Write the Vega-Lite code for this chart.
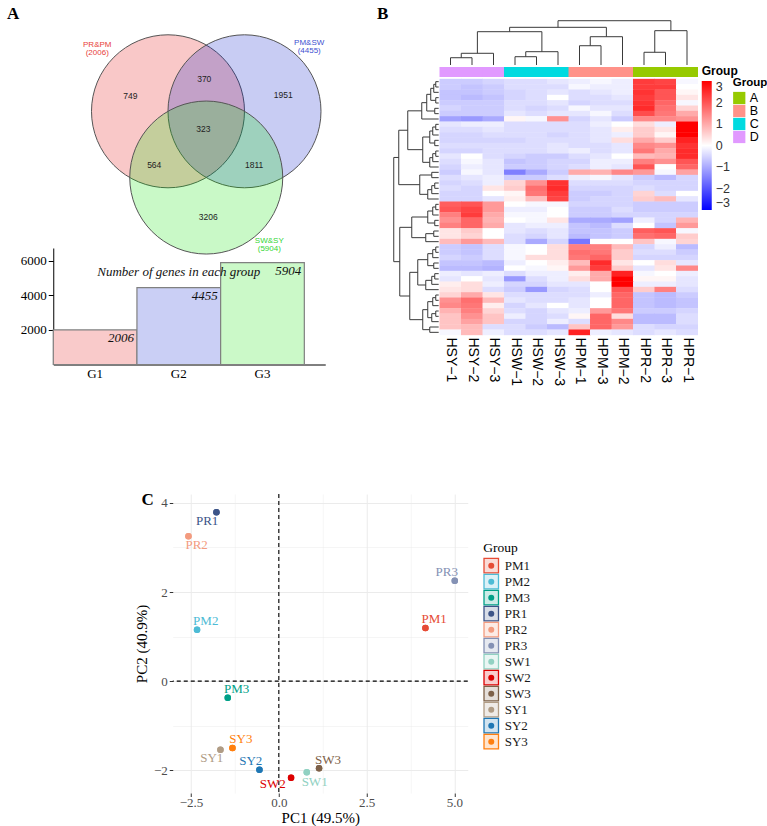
{
  "$schema": "https://vega.github.io/schema/vega-lite/v6.json",
  "background": "white",
  "padding": {"left": 6, "top": 3, "right": 0, "bottom": 0},
  "config": {"view": {"stroke": null}, "font": "Liberation Sans"},
  "datasets": {
    "vennSets": [
      {"set": "PR&PM", "x": -0.5, "y": 0.289, "lx": -1.425, "ly": 1.162, "label": "PR&PM\n(2006)"},
      {"set": "PM&SW", "x": 0.5, "y": 0.289, "lx": 1.346, "ly": 1.182, "label": "PM&SW\n(4455)"},
      {"set": "SW&SY", "x": 0.0, "y": -0.577, "lx": 0.824, "ly": -1.407, "label": "SW&SY\n(5904)"}
    ],
    "vennCounts": [
      {"n": 749, "x": -0.993, "y": 0.489},
      {"n": 370, "x": -0.026, "y": 0.711},
      {"n": 1951, "x": 1.007, "y": 0.502},
      {"n": 323, "x": -0.039, "y": 0.058},
      {"n": 564, "x": -0.68, "y": -0.413},
      {"n": 1811, "x": 0.627, "y": -0.413},
      {"n": 3206, "x": 0.026, "y": -1.093}
    ],
    "groupSizes": [
      {"g": "G1", "n": 2006},
      {"g": "G2", "n": 4455},
      {"g": "G3", "n": 5904}
    ],
    "samples": [
      {"sample": "HSY-1", "col": 0, "grp": "D"},
      {"sample": "HSY-2", "col": 1, "grp": "D"},
      {"sample": "HSY-3", "col": 2, "grp": "D"},
      {"sample": "HSW-1", "col": 3, "grp": "C"},
      {"sample": "HSW-2", "col": 4, "grp": "C"},
      {"sample": "HSW-3", "col": 5, "grp": "C"},
      {"sample": "HPM-1", "col": 6, "grp": "B"},
      {"sample": "HPM-3", "col": 7, "grp": "B"},
      {"sample": "HPM-2", "col": 8, "grp": "B"},
      {"sample": "HPR-2", "col": 9, "grp": "A"},
      {"sample": "HPR-3", "col": 10, "grp": "A"},
      {"sample": "HPR-1", "col": 11, "grp": "A"}
    ],
    "expression": [
      {"gene": 0, "HSY-1": -0.6, "HSY-2": -0.6, "HSY-3": -0.5, "HSW-1": -0.4, "HSW-2": -0.4, "HSW-3": -0.3, "HPM-1": -0.2, "HPM-3": -0.1, "HPM-2": -0.2, "HPR-2": 2.3, "HPR-3": 2.2, "HPR-1": -0.1},
      {"gene": 1, "HSY-1": -0.6, "HSY-2": -0.7, "HSY-3": -0.6, "HSW-1": -0.4, "HSW-2": -0.4, "HSW-3": -0.4, "HPM-1": -0.1, "HPM-3": -0.2, "HPM-2": -0.2, "HPR-2": 2.3, "HPR-3": 2.3, "HPR-1": 0.0},
      {"gene": 2, "HSY-1": -0.7, "HSY-2": -0.7, "HSY-3": -0.6, "HSW-1": -0.5, "HSW-2": -0.4, "HSW-3": -0.3, "HPM-1": -0.4, "HPM-3": -0.3, "HPM-2": -0.2, "HPR-2": 2.4, "HPR-3": 2.0, "HPR-1": 0.1},
      {"gene": 3, "HSY-1": -0.7, "HSY-2": -0.8, "HSY-3": -0.7, "HSW-1": -0.5, "HSW-2": -0.4, "HSW-3": 0.0, "HPM-1": -0.4, "HPM-3": -0.4, "HPM-2": -0.3, "HPR-2": 2.3, "HPR-3": 2.0, "HPR-1": 0.3},
      {"gene": 4, "HSY-1": -0.6, "HSY-2": -0.6, "HSY-3": -0.6, "HSW-1": -0.4, "HSW-2": -0.4, "HSW-3": -0.3, "HPM-1": -0.5, "HPM-3": -0.4, "HPM-2": -0.4, "HPR-2": 2.4, "HPR-3": 1.8, "HPR-1": -0.1},
      {"gene": 5, "HSY-1": -0.5, "HSY-2": -0.6, "HSY-3": -0.6, "HSW-1": -0.4, "HSW-2": -0.5, "HSW-3": -0.4, "HPM-1": -0.1, "HPM-3": -0.3, "HPM-2": -0.3, "HPR-2": 2.5, "HPR-3": 1.7, "HPR-1": 0.5},
      {"gene": 6, "HSY-1": -0.6, "HSY-2": -0.6, "HSY-3": -0.6, "HSW-1": -0.3, "HSW-2": -0.4, "HSW-3": -0.3, "HPM-1": -0.3, "HPM-3": -0.1, "HPM-2": -0.4, "HPR-2": 2.1, "HPR-3": 1.6, "HPR-1": 1.0},
      {"gene": 7, "HSY-1": -1.1, "HSY-2": -1.2, "HSY-3": -1.0, "HSW-1": 0.1, "HSW-2": -0.1, "HSW-3": 1.3, "HPM-1": -0.5, "HPM-3": -0.3, "HPM-2": -0.6, "HPR-2": 1.4, "HPR-3": 1.4, "HPR-1": 1.3},
      {"gene": 8, "HSY-1": -0.3, "HSY-2": -0.2, "HSY-3": -0.2, "HSW-1": -0.4, "HSW-2": -0.4, "HSW-3": -0.4, "HPM-1": -0.4, "HPM-3": -0.2, "HPM-2": 0.0, "HPR-2": 0.4, "HPR-3": -0.2, "HPR-1": 3.0},
      {"gene": 9, "HSY-1": -0.4, "HSY-2": -0.4, "HSY-3": -0.3, "HSW-1": -0.4, "HSW-2": -0.4, "HSW-3": -0.4, "HPM-1": -0.4, "HPM-3": -0.3, "HPM-2": 0.2, "HPR-2": 0.6, "HPR-3": 0.3, "HPR-1": 3.0},
      {"gene": 10, "HSY-1": -0.5, "HSY-2": -0.5, "HSY-3": -0.4, "HSW-1": -0.4, "HSW-2": -0.4, "HSW-3": -0.5, "HPM-1": -0.4, "HPM-3": -0.3, "HPM-2": -0.2, "HPR-2": 0.6, "HPR-3": 0.1, "HPR-1": 3.0},
      {"gene": 11, "HSY-1": -0.5, "HSY-2": -0.5, "HSY-3": -0.5, "HSW-1": -0.5, "HSW-2": -0.4, "HSW-3": -0.4, "HPM-1": -0.4, "HPM-3": -0.3, "HPM-2": 0.4, "HPR-2": 1.0, "HPR-3": 0.6, "HPR-1": 2.6},
      {"gene": 12, "HSY-1": -0.4, "HSY-2": -0.4, "HSY-3": -0.4, "HSW-1": -0.4, "HSW-2": -0.4, "HSW-3": -0.3, "HPM-1": -0.4, "HPM-3": -0.4, "HPM-2": -0.3, "HPR-2": 1.4, "HPR-3": 1.3, "HPR-1": 2.4},
      {"gene": 13, "HSY-1": -0.5, "HSY-2": -0.5, "HSY-3": -0.4, "HSW-1": -0.4, "HSW-2": -0.4, "HSW-3": -0.3, "HPM-1": -0.2, "HPM-3": -0.4, "HPM-2": -0.3, "HPR-2": 1.6, "HPR-3": 1.0, "HPR-1": 2.5},
      {"gene": 14, "HSY-1": -0.3, "HSY-2": 0.0, "HSY-3": -0.4, "HSW-1": -0.5, "HSW-2": -0.6, "HSW-3": -0.6, "HPM-1": -0.4, "HPM-3": -0.3, "HPM-2": 0.0, "HPR-2": 0.8, "HPR-3": 0.9, "HPR-1": 2.5},
      {"gene": 15, "HSY-1": -0.4, "HSY-2": -0.1, "HSY-3": -0.3, "HSW-1": -0.7, "HSW-2": -0.6, "HSW-3": -0.5, "HPM-1": -0.5, "HPM-3": -0.2, "HPM-2": -0.2, "HPR-2": 1.5, "HPR-3": 1.3, "HPR-1": 2.0},
      {"gene": 16, "HSY-1": -0.5, "HSY-2": -0.2, "HSY-3": -0.3, "HSW-1": -0.6, "HSW-2": -0.6, "HSW-3": -0.5, "HPM-1": -0.4, "HPM-3": -0.2, "HPM-2": -0.3, "HPR-2": 2.0, "HPR-3": 0.0, "HPR-1": 1.8},
      {"gene": 17, "HSY-1": -0.6, "HSY-2": -0.1, "HSY-3": -0.3, "HSW-1": -1.5, "HSW-2": -1.0, "HSW-3": -0.6, "HPM-1": 1.0, "HPM-3": 0.9, "HPM-2": 1.4, "HPR-2": 1.2, "HPR-3": -0.1, "HPR-1": 1.1},
      {"gene": 18, "HSY-1": -0.4, "HSY-2": -0.3, "HSY-3": -0.2, "HSW-1": -0.6, "HSW-2": -0.6, "HSW-3": -0.4, "HPM-1": -0.2, "HPM-3": -0.1, "HPM-2": -0.3, "HPR-2": -0.6, "HPR-3": -0.8, "HPR-1": -0.5},
      {"gene": 19, "HSY-1": -0.5, "HSY-2": -0.4, "HSY-3": -0.2, "HSW-1": 0.5, "HSW-2": 1.3, "HSW-3": 2.4, "HPM-1": -0.4, "HPM-3": -0.4, "HPM-2": -0.4, "HPR-2": -0.5, "HPR-3": -0.5, "HPR-1": -0.5},
      {"gene": 20, "HSY-1": -0.4, "HSY-2": -0.5, "HSY-3": 0.3, "HSW-1": 0.6, "HSW-2": 1.7, "HSW-3": 2.5, "HPM-1": -0.5, "HPM-3": -0.5, "HPM-2": -0.5, "HPR-2": -0.4, "HPR-3": -0.5, "HPR-1": -0.5},
      {"gene": 21, "HSY-1": -0.5, "HSY-2": -0.5, "HSY-3": 0.0, "HSW-1": 0.1, "HSW-2": 1.6, "HSW-3": 2.3, "HPM-1": -0.6, "HPM-3": -0.6, "HPM-2": -0.5, "HPR-2": 0.5, "HPR-3": -0.4, "HPR-1": 0.0},
      {"gene": 22, "HSY-1": -0.5, "HSY-2": -0.5, "HSY-3": -0.3, "HSW-1": 0.2, "HSW-2": 0.8, "HSW-3": 2.2, "HPM-1": -0.6, "HPM-3": -0.5, "HPM-2": -0.5, "HPR-2": 0.6, "HPR-3": 0.8, "HPR-1": -0.3},
      {"gene": 23, "HSY-1": 1.9, "HSY-2": 2.0, "HSY-3": 1.2, "HSW-1": 0.0, "HSW-2": -0.1, "HSW-3": -0.1, "HPM-1": -0.5, "HPM-3": -0.5, "HPM-2": -0.5, "HPR-2": -0.6, "HPR-3": -0.6, "HPR-1": -0.6},
      {"gene": 24, "HSY-1": 2.0, "HSY-2": 2.2, "HSY-3": 1.2, "HSW-1": -0.2, "HSW-2": -0.2, "HSW-3": 0.0, "HPM-1": -0.6, "HPM-3": -0.6, "HPM-2": -0.4, "HPR-2": -0.6, "HPR-3": -0.6, "HPR-1": -0.6},
      {"gene": 25, "HSY-1": 1.5, "HSY-2": 2.3, "HSY-3": 1.0, "HSW-1": -0.1, "HSW-2": -0.1, "HSW-3": 0.0, "HPM-1": -0.6, "HPM-3": -0.6, "HPM-2": -0.5, "HPR-2": -0.5, "HPR-3": -0.5, "HPR-1": -0.5},
      {"gene": 26, "HSY-1": 1.3, "HSY-2": 1.8, "HSY-3": 0.9, "HSW-1": 0.0, "HSW-2": -0.1, "HSW-3": 0.3, "HPM-1": -1.0, "HPM-3": -1.0, "HPM-2": -1.1, "HPR-2": -0.2, "HPR-3": -0.5, "HPR-1": 0.9},
      {"gene": 27, "HSY-1": 1.5, "HSY-2": 1.8, "HSY-3": 1.0, "HSW-1": -0.3, "HSW-2": -0.2, "HSW-3": -0.2, "HPM-1": -0.7, "HPM-3": -0.8, "HPM-2": -0.4, "HPR-2": 0.0, "HPR-3": -0.7, "HPR-1": 1.2},
      {"gene": 28, "HSY-1": 0.3, "HSY-2": 0.6, "HSY-3": 0.0, "HSW-1": -0.3, "HSW-2": -0.4, "HSW-3": -0.3, "HPM-1": -0.7, "HPM-3": -0.7, "HPM-2": -0.6, "HPR-2": 1.9, "HPR-3": 2.0, "HPR-1": -0.1},
      {"gene": 29, "HSY-1": 0.3, "HSY-2": 0.5, "HSY-3": 0.0, "HSW-1": -0.4, "HSW-2": -0.5, "HSW-3": -0.3, "HPM-1": -0.8, "HPM-3": -0.7, "HPM-2": -0.6, "HPR-2": 1.7, "HPR-3": 1.8, "HPR-1": 0.6},
      {"gene": 30, "HSY-1": 0.8, "HSY-2": 1.2, "HSY-3": 0.8, "HSW-1": -0.4, "HSW-2": -1.0, "HSW-3": -0.5, "HPM-1": -1.6, "HPM-3": 0.0, "HPM-2": 0.0, "HPR-2": 0.7, "HPR-3": -0.1, "HPR-1": 0.5},
      {"gene": 31, "HSY-1": -0.6, "HSY-2": -0.7, "HSY-3": -0.4, "HSW-1": -0.1, "HSW-2": 0.0, "HSW-3": 0.4, "HPM-1": 1.5, "HPM-3": 1.5, "HPM-2": 0.8, "HPR-2": -0.5, "HPR-3": -0.2, "HPR-1": -0.8},
      {"gene": 32, "HSY-1": -0.6, "HSY-2": -0.7, "HSY-3": -0.4, "HSW-1": -0.1, "HSW-2": 0.0, "HSW-3": 0.4, "HPM-1": 1.7, "HPM-3": 1.6, "HPM-2": 0.6, "HPR-2": -0.4, "HPR-3": -0.4, "HPR-1": -0.6},
      {"gene": 33, "HSY-1": -0.5, "HSY-2": -0.6, "HSY-3": -0.4, "HSW-1": -0.1, "HSW-2": 0.4, "HSW-3": 0.4, "HPM-1": 1.6, "HPM-3": 1.8, "HPM-2": 0.6, "HPR-2": -0.5, "HPR-3": -0.5, "HPR-1": -0.5},
      {"gene": 34, "HSY-1": -0.7, "HSY-2": -0.7, "HSY-3": -0.8, "HSW-1": -0.2, "HSW-2": 0.0, "HSW-3": 0.2, "HPM-1": 0.8, "HPM-3": 2.5, "HPM-2": 0.3, "HPR-2": 0.0, "HPR-3": 0.4, "HPR-1": -0.3},
      {"gene": 35, "HSY-1": -0.8, "HSY-2": -0.8, "HSY-3": -0.9, "HSW-1": 0.0, "HSW-2": -0.1, "HSW-3": 0.1, "HPM-1": 1.2, "HPM-3": 2.3, "HPM-2": 0.6, "HPR-2": -0.3, "HPR-3": 0.3, "HPR-1": 1.4},
      {"gene": 36, "HSY-1": -0.2, "HSY-2": -0.3, "HSY-3": -0.2, "HSW-1": -0.4, "HSW-2": -0.2, "HSW-3": -0.2, "HPM-1": 0.2, "HPM-3": 1.0, "HPM-2": 2.6, "HPR-2": -0.1, "HPR-3": 0.0, "HPR-1": -0.2},
      {"gene": 37, "HSY-1": -0.3, "HSY-2": 0.0, "HSY-3": -0.3, "HSW-1": -1.2, "HSW-2": -0.4, "HSW-3": -0.2, "HPM-1": 0.4, "HPM-3": 1.0, "HPM-2": 3.0, "HPR-2": 0.1, "HPR-3": 0.1, "HPR-1": -0.3},
      {"gene": 38, "HSY-1": 0.2, "HSY-2": 0.4, "HSY-3": -0.2, "HSW-1": -0.5, "HSW-2": -0.5, "HSW-3": -0.3, "HPM-1": -0.3, "HPM-3": 0.0, "HPM-2": 3.0, "HPR-2": -0.2, "HPR-3": -0.2, "HPR-1": -0.3},
      {"gene": 39, "HSY-1": 0.3, "HSY-2": 0.4, "HSY-3": -0.4, "HSW-1": -0.6, "HSW-2": -1.2, "HSW-3": -0.5, "HPM-1": -0.4, "HPM-3": 0.0, "HPM-2": 2.0, "HPR-2": 0.6, "HPR-3": 1.5, "HPR-1": -0.4},
      {"gene": 40, "HSY-1": 0.5, "HSY-2": 1.0, "HSY-3": 0.3, "HSW-1": -0.4, "HSW-2": -0.4, "HSW-3": -0.4, "HPM-1": -0.4, "HPM-3": -0.2, "HPM-2": 1.8, "HPR-2": -0.7, "HPR-3": -0.8, "HPR-1": -0.6},
      {"gene": 41, "HSY-1": 1.3, "HSY-2": 1.7, "HSY-3": 0.8, "HSW-1": -0.3, "HSW-2": -0.4, "HSW-3": -0.4, "HPM-1": -0.3, "HPM-3": 0.0, "HPM-2": 1.8, "HPR-2": -0.7, "HPR-3": -0.8, "HPR-1": -0.7},
      {"gene": 42, "HSY-1": 1.4, "HSY-2": 1.6, "HSY-3": 0.2, "HSW-1": -0.5, "HSW-2": -0.3, "HSW-3": 0.0, "HPM-1": -0.3, "HPM-3": 0.0, "HPM-2": 1.8, "HPR-2": -0.7, "HPR-3": -0.8, "HPR-1": -0.7},
      {"gene": 43, "HSY-1": 0.9, "HSY-2": 1.5, "HSY-3": 0.5, "HSW-1": -0.4, "HSW-2": -0.5, "HSW-3": -0.3, "HPM-1": -0.2, "HPM-3": 1.2, "HPM-2": 1.6, "HPR-2": -0.6, "HPR-3": -0.6, "HPR-1": -0.5},
      {"gene": 44, "HSY-1": 0.7, "HSY-2": 1.3, "HSY-3": 0.7, "HSW-1": -0.2, "HSW-2": -0.5, "HSW-3": -0.4, "HPM-1": 0.1, "HPM-3": 1.8, "HPM-2": 0.4, "HPR-2": -0.8, "HPR-3": -0.8, "HPR-1": -0.4},
      {"gene": 45, "HSY-1": 0.7, "HSY-2": 1.1, "HSY-3": 0.7, "HSW-1": -0.5, "HSW-2": -0.5, "HSW-3": -0.2, "HPM-1": -0.4, "HPM-3": 1.8, "HPM-2": 1.4, "HPR-2": -0.8, "HPR-3": -0.8, "HPR-1": -0.4},
      {"gene": 46, "HSY-1": 0.7, "HSY-2": 0.8, "HSY-3": -0.4, "HSW-1": -0.4, "HSW-2": -0.6, "HSW-3": -0.8, "HPM-1": 0.7, "HPM-3": 1.8, "HPM-2": 1.2, "HPR-2": -0.4, "HPR-3": -0.5, "HPR-1": -0.5},
      {"gene": 47, "HSY-1": -0.1, "HSY-2": 0.8, "HSY-3": -0.2, "HSW-1": -0.4, "HSW-2": -0.4, "HSW-3": -0.3, "HPM-1": 2.6, "HPM-3": -0.2, "HPM-2": -0.3, "HPR-2": -0.4, "HPR-3": -0.3, "HPR-1": -0.4}
    ],
    "rowTree": [
      {"pA": 0, "hA": -0.55, "pB": 1, "hB": -0.55, "h": -0.686},
      {"pA": 0.5, "hA": -0.686, "pB": 2, "hB": -0.55, "h": -0.779},
      {"pA": 3, "hA": -0.55, "pB": 4, "hB": -0.55, "h": -0.686},
      {"pA": 1.25, "hA": -0.779, "pB": 3.5, "hB": -0.686, "h": -0.919},
      {"pA": 5, "hA": -0.55, "pB": 6, "hB": -0.55, "h": -0.733},
      {"pA": 2.375, "hA": -0.919, "pB": 5.5, "hB": -0.733, "h": -1.105},
      {"pA": 3.9375, "hA": -1.105, "pB": 7, "hB": -0.55, "h": -1.337},
      {"pA": 8, "hA": -0.55, "pB": 9, "hB": -0.55, "h": -0.686},
      {"pA": 8.5, "hA": -0.686, "pB": 10, "hB": -0.55, "h": -0.826},
      {"pA": 11, "hA": -0.55, "pB": 12, "hB": -0.55, "h": -0.733},
      {"pA": 9.25, "hA": -0.826, "pB": 11.5, "hB": -0.733, "h": -0.965},
      {"pA": 13, "hA": -0.55, "pB": 14, "hB": -0.55, "h": -0.686},
      {"pA": 13.5, "hA": -0.686, "pB": 15, "hB": -0.55, "h": -0.826},
      {"pA": 14.25, "hA": -0.826, "pB": 16, "hB": -0.55, "h": -0.965},
      {"pA": 10.375, "hA": -0.965, "pB": 15.125, "hB": -0.965, "h": -1.291},
      {"pA": 5.46875, "hA": -1.337, "pB": 12.75, "hB": -1.291, "h": -1.988},
      {"pA": 17, "hA": -0.55, "pB": 18, "hB": -0.55, "h": -0.872},
      {"pA": 19, "hA": -0.55, "pB": 20, "hB": -0.55, "h": -0.733},
      {"pA": 19.5, "hA": -0.733, "pB": 21, "hB": -0.55, "h": -0.872},
      {"pA": 20.25, "hA": -0.872, "pB": 22, "hB": -0.55, "h": -1.058},
      {"pA": 17.5, "hA": -0.872, "pB": 21.125, "hB": -1.058, "h": -1.43},
      {"pA": 9.109, "hA": -1.988, "pB": 19.3125, "hB": -1.43, "h": -2.407},
      {"pA": 23, "hA": -0.55, "pB": 24, "hB": -0.55, "h": -0.686},
      {"pA": 23.5, "hA": -0.686, "pB": 25, "hB": -0.55, "h": -0.826},
      {"pA": 26, "hA": -0.55, "pB": 27, "hB": -0.55, "h": -0.733},
      {"pA": 24.25, "hA": -0.826, "pB": 26.5, "hB": -0.733, "h": -1.058},
      {"pA": 28, "hA": -0.55, "pB": 29, "hB": -0.55, "h": -0.779},
      {"pA": 28.5, "hA": -0.779, "pB": 30, "hB": -0.55, "h": -1.151},
      {"pA": 25.375, "hA": -1.058, "pB": 29.25, "hB": -1.151, "h": -1.802},
      {"pA": 31, "hA": -0.55, "pB": 32, "hB": -0.55, "h": -0.686},
      {"pA": 31.5, "hA": -0.686, "pB": 33, "hB": -0.55, "h": -0.826},
      {"pA": 34, "hA": -0.55, "pB": 35, "hB": -0.55, "h": -0.779},
      {"pA": 32.25, "hA": -0.826, "pB": 34.5, "hB": -0.779, "h": -1.058},
      {"pA": 36, "hA": -0.55, "pB": 37, "hB": -0.55, "h": -0.733},
      {"pA": 36.5, "hA": -0.733, "pB": 38, "hB": -0.55, "h": -0.872},
      {"pA": 37.25, "hA": -0.872, "pB": 39, "hB": -0.55, "h": -1.151},
      {"pA": 33.375, "hA": -1.058, "pB": 38.125, "hB": -1.151, "h": -1.523},
      {"pA": 40, "hA": -0.55, "pB": 41, "hB": -0.55, "h": -0.686},
      {"pA": 40.5, "hA": -0.686, "pB": 42, "hB": -0.55, "h": -0.826},
      {"pA": 43, "hA": -0.55, "pB": 44, "hB": -0.55, "h": -0.686},
      {"pA": 43.5, "hA": -0.686, "pB": 45, "hB": -0.55, "h": -0.872},
      {"pA": 41.25, "hA": -0.826, "pB": 44.25, "hB": -0.872, "h": -1.058},
      {"pA": 46, "hA": -0.55, "pB": 47, "hB": -0.55, "h": -0.965},
      {"pA": 42.75, "hA": -1.058, "pB": 46.5, "hB": -0.965, "h": -1.291},
      {"pA": 35.75, "hA": -1.523, "pB": 44.625, "hB": -1.291, "h": -1.895},
      {"pA": 27.3125, "hA": -1.802, "pB": 40.1875, "hB": -1.895, "h": -2.36},
      {"pA": 14.211, "hA": -2.407, "pB": 33.75, "hB": -2.36, "h": -2.64}
    ],
    "colTree": [
      {"pA": 0, "hA": -3.125, "pB": 1, "hB": -3.125, "h": -4.49},
      {"pA": 0.5, "hA": -4.49, "pB": 2, "hB": -3.125, "h": -5.32},
      {"pA": 3, "hA": -3.125, "pB": 4, "hB": -3.125, "h": -4.68},
      {"pA": 3.5, "hA": -4.68, "pB": 5, "hB": -3.125, "h": -5.62},
      {"pA": 1.25, "hA": -5.32, "pB": 4.25, "hB": -5.62, "h": -9.37},
      {"pA": 6, "hA": -3.125, "pB": 7, "hB": -3.125, "h": -6.74},
      {"pA": 6.5, "hA": -6.74, "pB": 8, "hB": -3.125, "h": -8.43},
      {"pA": 2.75, "hA": -9.37, "pB": 7.25, "hB": -8.43, "h": -10.19},
      {"pA": 9, "hA": -3.125, "pB": 10, "hB": -3.125, "h": -5.51},
      {"pA": 9.5, "hA": -5.51, "pB": 11, "hB": -3.125, "h": -9.56},
      {"pA": 5, "hA": -10.19, "pB": 10.25, "hB": -9.56, "h": -11.43}
    ],
    "pca": [
      {"s": "PM1", "pc1": 4.175, "pc2": 1.194, "lx": 4.42, "ly": 1.39},
      {"s": "PM2", "pc1": -2.328, "pc2": 1.156, "lx": -2.08, "ly": 1.35},
      {"s": "PM3", "pc1": -1.454, "pc2": -0.37, "lx": -1.2, "ly": -0.18},
      {"s": "PR1", "pc1": -1.776, "pc2": 3.79, "lx": -2.04, "ly": 3.6},
      {"s": "PR2", "pc1": -2.573, "pc2": 3.252, "lx": -2.34, "ly": 3.06},
      {"s": "PR3", "pc1": 5.01, "pc2": 2.255, "lx": 4.78, "ly": 2.45},
      {"s": "SW1", "pc1": 0.796, "pc2": -2.044, "lx": 1.02, "ly": -2.26},
      {"s": "SW2", "pc1": 0.349, "pc2": -2.166, "lx": -0.17, "ly": -2.31},
      {"s": "SW3", "pc1": 1.146, "pc2": -1.955, "lx": 1.4, "ly": -1.78},
      {"s": "SY1", "pc1": -1.662, "pc2": -1.537, "lx": -1.91, "ly": -1.73},
      {"s": "SY2", "pc1": -0.551, "pc2": -1.986, "lx": -0.8, "ly": -1.8},
      {"s": "SY3", "pc1": -1.32, "pc2": -1.499, "lx": -1.08, "ly": -1.3}
    ]
  },
  "vconcat": [
    {
      "hconcat": [
        {
          "vconcat": [
            {
              "width": 272,
              "height": 237,
              "layer": [
                {
                  "data": {"name": "vennSets"},
                  "mark": {"type": "point", "shape": "circle", "filled": true, "size": 23409, "opacity": 1, "fillOpacity": 0.22, "stroke": "#555555", "strokeWidth": 1, "strokeOpacity": 1},
                  "encoding": {
                    "x": {"field": "x", "type": "quantitative", "scale": {"domain": [-2.0, 1.5556], "nice": false, "zero": false}, "axis": null},
                    "y": {"field": "y", "type": "quantitative", "scale": {"domain": [-1.3935, 1.7046], "nice": false, "zero": false}, "axis": null},
                    "fill": {"field": "set", "type": "nominal", "scale": {"domain": ["PR&PM", "PM&SW", "SW&SY"], "range": ["#E40505", "#0517C8", "#0AE400"]}, "legend": null}
                  }
                },
                {
                  "data": {"name": "vennCounts"},
                  "mark": {"type": "text", "font": "Liberation Sans", "fontSize": 8.5, "fill": "#222222"},
                  "encoding": {
                    "x": {"field": "x", "type": "quantitative", "axis": null},
                    "y": {"field": "y", "type": "quantitative", "axis": null},
                    "text": {"field": "n", "type": "nominal"}
                  }
                },
                {
                  "data": {"name": "vennSets"},
                  "mark": {"type": "text", "font": "Liberation Sans", "fontSize": 8, "lineBreak": "\n", "lineHeight": 8},
                  "encoding": {
                    "x": {"field": "lx", "type": "quantitative", "axis": null},
                    "y": {"field": "ly", "type": "quantitative", "axis": null},
                    "text": {"field": "label", "type": "nominal"},
                    "color": {"field": "set", "type": "nominal", "scale": {"domain": ["PR&PM", "PM&SW", "SW&SY"], "range": ["#E8403A", "#4050D0", "#33D633"]}, "legend": null}
                  }
                },
                {
                  "data": {"values": [{"panel": "A"}]},
                  "mark": {"type": "text", "font": "Liberation Serif", "fontSize": 17, "fontWeight": "bold", "baseline": "alphabetic", "align": "center", "fill": "#000000"},
                  "encoding": {
                    "x": {"datum": -2.525, "type": "quantitative", "axis": null},
                    "y": {"datum": 1.495, "type": "quantitative", "axis": null},
                    "text": {"field": "panel", "type": "nominal"}
                  }
                }
              ]
            },
            {
              "width": 272,
              "height": 116.5,
              "data": {"name": "groupSizes"},
              "layer": [
                {
                  "mark": {"type": "bar", "stroke": "#808080", "strokeWidth": 1.2, "opacity": 1},
                  "encoding": {
                    "x": {"field": "g", "type": "nominal", "scale": {"paddingInner": 0, "paddingOuter": 0.125, "align": 0},
                      "axis": {"title": null, "ticks": false, "labelAngle": 0, "labelFont": "Liberation Serif", "labelFontSize": 13, "labelColor": "#000000", "domainColor": "#000000", "domainWidth": 1, "labelPadding": 3}},
                    "y": {"field": "n", "type": "quantitative", "scale": {"domain": [0, 6750], "nice": false},
                      "axis": {"title": null, "values": [2000, 4000, 6000], "format": "d", "grid": false, "labelFont": "Liberation Serif", "labelFontSize": 13, "labelColor": "#000000", "tickColor": "#000000", "tickSize": 5, "domainColor": "#000000", "labelPadding": 2}},
                    "fill": {"field": "g", "type": "nominal", "scale": {"domain": ["G1", "G2", "G3"], "range": ["#F9CACA", "#CACFF5", "#CBF9C8"]}, "legend": null}
                  }
                },
                {
                  "mark": {"type": "text", "align": "right", "baseline": "top", "dx": -3, "dy": 2, "font": "Liberation Serif", "fontSize": 13, "fontStyle": "italic", "fill": "#111111"},
                  "encoding": {
                    "x": {"field": "g", "type": "nominal", "bandPosition": 1},
                    "y": {"field": "n", "type": "quantitative"},
                    "text": {"field": "n", "type": "nominal"}
                  }
                },
                {
                  "transform": [{"filter": "datum.g === 'G2'"}],
                  "mark": {"type": "text", "font": "Liberation Serif", "fontSize": 13, "fontStyle": "italic", "baseline": "middle", "fill": "#111111", "text": "Number of genes in each group"},
                  "encoding": {
                    "x": {"field": "g", "type": "nominal"},
                    "y": {"datum": 5359, "type": "quantitative"}
                  }
                }
              ]
            }
          ],
          "bounds": "flush",
          "spacing": 8,
          "resolve": {"scale": {"color": "independent", "fill": "independent", "stroke": "independent"}}
        },
        {
          "width": 328,
          "height": 332,
          "layer": [
            {
              "data": {"name": "expression"},
              "transform": [
                {"fold": ["HSY-1", "HSY-2", "HSY-3", "HSW-1", "HSW-2", "HSW-3", "HPM-1", "HPM-3", "HPM-2", "HPR-2", "HPR-3", "HPR-1"], "as": ["sample", "z"]},
                {"lookup": "sample", "from": {"data": {"name": "samples"}, "key": "sample", "fields": ["col"]}}
              ],
              "mark": {"type": "point", "shape": "M-1,-0.2591H1V0.2591H-1Z", "size": 484, "filled": true, "opacity": 1, "strokeWidth": 0},
              "encoding": {
                "x": {"field": "col", "type": "quantitative", "scale": {"domain": [-3.756, 11.5], "nice": false, "zero": false},
                  "axis": {"values": [0, 1, 2, 3, 4, 5, 6, 7, 8, 9, 10, 11], "labelExpr": "['HSY−1','HSY−2','HSY−3','HSW−1','HSW−2','HSW−3','HPM−1','HPM−3','HPM−2','HPR−2','HPR−3','HPR−1'][datum.value]", "labelAngle": 90, "labelAlign": "left", "labelBaseline": "middle", "labelFont": "Liberation Sans", "labelFontSize": 14, "labelColor": "#000000", "ticks": false, "domain": false, "grid": false, "title": null, "labelPadding": 2, "labelFlush": false, "labelOverlap": false}},
                "y": {"field": "gene", "type": "quantitative", "scale": {"domain": [-14.75, 47.5], "reverse": true, "nice": false, "zero": false}, "axis": null},
                "color": {"field": "z", "type": "quantitative", "scale": {"domain": [-3, 0, 3], "range": ["#0000FF", "#FFFFFF", "#FF0000"], "interpolate": "rgb"},
                  "legend": {"title": "Group", "orient": "none", "legendX": 332, "legendY": 63, "direction": "vertical", "gradientLength": 129, "gradientThickness": 10, "gradientStrokeWidth": 0, "values": [-3, -2, -1, 0, 1, 2, 3], "titleFont": "Liberation Sans", "titleFontSize": 12, "titleFontWeight": "bold", "titleColor": "#000000", "titlePadding": 3, "labelFont": "Liberation Sans", "labelFontSize": 12.5, "labelColor": "#333333", "labelOffset": 4}}
              }
            },
            {
              "data": {"name": "samples"},
              "mark": {"type": "point", "shape": "M-1,-0.4545H1V0.4545H-1Z", "size": 484, "filled": true, "opacity": 1, "strokeWidth": 0},
              "encoding": {
                "x": {"field": "col", "type": "quantitative",
                  "axis": {"values": [0, 1, 2, 3, 4, 5, 6, 7, 8, 9, 10, 11], "labelExpr": "['HSY−1','HSY−2','HSY−3','HSW−1','HSW−2','HSW−3','HPM−1','HPM−3','HPM−2','HPR−2','HPR−3','HPR−1'][datum.value]", "labelAngle": 90, "labelAlign": "left", "labelBaseline": "middle", "labelFont": "Liberation Sans", "labelFontSize": 14, "labelColor": "#000000", "ticks": false, "domain": false, "grid": false, "title": null, "labelPadding": 2, "labelFlush": false, "labelOverlap": false}},
                "y": {"datum": -1.8125, "type": "quantitative", "axis": null},
                "color": {"field": "grp", "type": "nominal", "scale": {"domain": ["A", "B", "C", "D"], "range": ["#96CA00", "#FF9289", "#00DAE0", "#E199FF"]},
                  "legend": {"title": "Group", "orient": "none", "legendX": 363, "legendY": 74, "symbolType": "square", "symbolSize": 150, "symbolStrokeWidth": 0, "rowPadding": 0, "titleFont": "Liberation Sans", "titleFontSize": 11.5, "titleFontWeight": "bold", "titleColor": "#000000", "titlePadding": 3, "labelFont": "Liberation Sans", "labelFontSize": 12.5, "labelColor": "#000000", "labelOffset": 4}}
              }
            },
            {
              "data": {"name": "rowTree"},
              "mark": {"type": "rule", "color": "#3a3a3a", "strokeWidth": 1},
              "encoding": {
                "x": {"field": "hA", "type": "quantitative",
                  "axis": {"values": [0, 1, 2, 3, 4, 5, 6, 7, 8, 9, 10, 11], "labelExpr": "['HSY−1','HSY−2','HSY−3','HSW−1','HSW−2','HSW−3','HPM−1','HPM−3','HPM−2','HPR−2','HPR−3','HPR−1'][datum.value]", "labelAngle": 90, "labelAlign": "left", "labelBaseline": "middle", "labelFont": "Liberation Sans", "labelFontSize": 14, "labelColor": "#000000", "ticks": false, "domain": false, "grid": false, "title": null, "labelPadding": 2, "labelFlush": false, "labelOverlap": false}},
                "x2": {"field": "h"},
                "y": {"field": "pA", "type": "quantitative", "axis": null}
              }
            },
            {
              "data": {"name": "rowTree"},
              "mark": {"type": "rule", "color": "#3a3a3a", "strokeWidth": 1},
              "encoding": {
                "x": {"field": "hB", "type": "quantitative",
                  "axis": {"values": [0, 1, 2, 3, 4, 5, 6, 7, 8, 9, 10, 11], "labelExpr": "['HSY−1','HSY−2','HSY−3','HSW−1','HSW−2','HSW−3','HPM−1','HPM−3','HPM−2','HPR−2','HPR−3','HPR−1'][datum.value]", "labelAngle": 90, "labelAlign": "left", "labelBaseline": "middle", "labelFont": "Liberation Sans", "labelFontSize": 14, "labelColor": "#000000", "ticks": false, "domain": false, "grid": false, "title": null, "labelPadding": 2, "labelFlush": false, "labelOverlap": false}},
                "x2": {"field": "h"},
                "y": {"field": "pB", "type": "quantitative", "axis": null}
              }
            },
            {
              "data": {"name": "rowTree"},
              "mark": {"type": "rule", "color": "#3a3a3a", "strokeWidth": 1},
              "encoding": {
                "x": {"field": "h", "type": "quantitative",
                  "axis": {"values": [0, 1, 2, 3, 4, 5, 6, 7, 8, 9, 10, 11], "labelExpr": "['HSY−1','HSY−2','HSY−3','HSW−1','HSW−2','HSW−3','HPM−1','HPM−3','HPM−2','HPR−2','HPR−3','HPR−1'][datum.value]", "labelAngle": 90, "labelAlign": "left", "labelBaseline": "middle", "labelFont": "Liberation Sans", "labelFontSize": 14, "labelColor": "#000000", "ticks": false, "domain": false, "grid": false, "title": null, "labelPadding": 2, "labelFlush": false, "labelOverlap": false}},
                "y": {"field": "pA", "type": "quantitative", "axis": null},
                "y2": {"field": "pB"}
              }
            },
            {
              "data": {"name": "colTree"},
              "mark": {"type": "rule", "color": "#3a3a3a", "strokeWidth": 1},
              "encoding": {
                "y": {"field": "hA", "type": "quantitative", "axis": null},
                "y2": {"field": "h"},
                "x": {"field": "pA", "type": "quantitative",
                  "axis": {"values": [0, 1, 2, 3, 4, 5, 6, 7, 8, 9, 10, 11], "labelExpr": "['HSY−1','HSY−2','HSY−3','HSW−1','HSW−2','HSW−3','HPM−1','HPM−3','HPM−2','HPR−2','HPR−3','HPR−1'][datum.value]", "labelAngle": 90, "labelAlign": "left", "labelBaseline": "middle", "labelFont": "Liberation Sans", "labelFontSize": 14, "labelColor": "#000000", "ticks": false, "domain": false, "grid": false, "title": null, "labelPadding": 2, "labelFlush": false, "labelOverlap": false}}
              }
            },
            {
              "data": {"name": "colTree"},
              "mark": {"type": "rule", "color": "#3a3a3a", "strokeWidth": 1},
              "encoding": {
                "y": {"field": "hB", "type": "quantitative", "axis": null},
                "y2": {"field": "h"},
                "x": {"field": "pB", "type": "quantitative",
                  "axis": {"values": [0, 1, 2, 3, 4, 5, 6, 7, 8, 9, 10, 11], "labelExpr": "['HSY−1','HSY−2','HSY−3','HSW−1','HSW−2','HSW−3','HPM−1','HPM−3','HPM−2','HPR−2','HPR−3','HPR−1'][datum.value]", "labelAngle": 90, "labelAlign": "left", "labelBaseline": "middle", "labelFont": "Liberation Sans", "labelFontSize": 14, "labelColor": "#000000", "ticks": false, "domain": false, "grid": false, "title": null, "labelPadding": 2, "labelFlush": false, "labelOverlap": false}}
              }
            },
            {
              "data": {"name": "colTree"},
              "mark": {"type": "rule", "color": "#3a3a3a", "strokeWidth": 1},
              "encoding": {
                "y": {"field": "h", "type": "quantitative", "axis": null},
                "x": {"field": "pA", "type": "quantitative",
                  "axis": {"values": [0, 1, 2, 3, 4, 5, 6, 7, 8, 9, 10, 11], "labelExpr": "['HSY−1','HSY−2','HSY−3','HSW−1','HSW−2','HSW−3','HPM−1','HPM−3','HPM−2','HPR−2','HPR−3','HPR−1'][datum.value]", "labelAngle": 90, "labelAlign": "left", "labelBaseline": "middle", "labelFont": "Liberation Sans", "labelFontSize": 14, "labelColor": "#000000", "ticks": false, "domain": false, "grid": false, "title": null, "labelPadding": 2, "labelFlush": false, "labelOverlap": false}},
                "x2": {"field": "pB"}
              }
            },
            {
              "data": {"values": [{"panel": "B"}]},
              "mark": {"type": "text", "font": "Liberation Serif", "fontSize": 17, "fontWeight": "bold", "baseline": "alphabetic", "align": "center", "fill": "#000000"},
              "encoding": {
                "x": {"datum": -3.151, "type": "quantitative",
                  "axis": {"values": [0, 1, 2, 3, 4, 5, 6, 7, 8, 9, 10, 11], "labelExpr": "['HSY−1','HSY−2','HSY−3','HSW−1','HSW−2','HSW−3','HPM−1','HPM−3','HPM−2','HPR−2','HPR−3','HPR−1'][datum.value]", "labelAngle": 90, "labelAlign": "left", "labelBaseline": "middle", "labelFont": "Liberation Sans", "labelFontSize": 14, "labelColor": "#000000", "ticks": false, "domain": false, "grid": false, "title": null, "labelPadding": 2, "labelFlush": false, "labelOverlap": false}},
                "y": {"datum": -11.75, "type": "quantitative", "axis": null},
                "text": {"field": "panel", "type": "nominal"}
              }
            }
          ],
          "resolve": {"scale": {"color": "independent"}, "legend": {"color": "independent"}}
        }
      ],
      "spacing": 44.5,
      "resolve": {"scale": {"color": "independent", "fill": "independent", "stroke": "independent"}}
    },
    {
      "hconcat": [
        {
          "width": 295,
          "height": 299,
          "layer": [
            {
              "data": {"name": "pca"},
              "mark": {"type": "point", "filled": true, "size": 42, "opacity": 1},
              "encoding": {
                "x": {"field": "pc1", "type": "quantitative", "scale": {"domain": [-3.02, 5.38], "nice": false, "zero": false},
                  "axis": {"values": [-2.5, -1.25, 0, 1.25, 2.5, 3.75, 5], "labelExpr": "datum.value % 2.5 === 0 ? format(datum.value, '.1f') : ''", "title": "PC1 (49.5%)", "grid": true, "gridColor": "#EBEBEB", "gridWidth": {"condition": {"test": "datum.value % 2.5 === 0", "value": 1}, "value": 0.5}, "tickOpacity": {"condition": {"test": "datum.value % 2.5 === 0", "value": 1}, "value": 0}, "tickColor": "#333333", "tickSize": 3.5, "domain": false, "labelFont": "Liberation Serif", "labelFontSize": 13, "labelColor": "#4D4D4D", "labelPadding": 0, "labelFlush": false, "labelOverlap": false, "titleFont": "Liberation Serif", "titleFontSize": 15, "titleFontWeight": "normal", "titleColor": "#000000", "titlePadding": 1}},
                "y": {"field": "pc2", "type": "quantitative", "scale": {"domain": [-2.51, 4.2], "nice": false, "zero": false},
                  "axis": {"values": [-2, -1, 0, 1, 2, 3, 4], "labelExpr": "datum.value % 2 === 0 ? format(datum.value, 'd') : ''", "title": "PC2 (40.9%)", "grid": true, "gridColor": "#EBEBEB", "gridWidth": {"condition": {"test": "datum.value % 2 === 0", "value": 1}, "value": 0.5}, "tickOpacity": {"condition": {"test": "datum.value % 2 === 0", "value": 1}, "value": 0}, "tickColor": "#333333", "tickSize": 3.5, "domain": false, "labelFont": "Liberation Serif", "labelFontSize": 13, "labelColor": "#4D4D4D", "labelPadding": 2, "labelFlush": false, "labelOverlap": false, "titleFont": "Liberation Serif", "titleFontSize": 15, "titleFontWeight": "normal", "titleColor": "#000000", "titlePadding": 4}},
                "color": {"field": "s", "type": "nominal", "scale": {"domain": ["PM1", "PM2", "PM3", "PR1", "PR2", "PR3", "SW1", "SW2", "SW3", "SY1", "SY2", "SY3"], "range": ["#E64B35", "#4DBBD5", "#00A087", "#3C5488", "#F39B7F", "#8491B4", "#91D1C2", "#DC0000", "#7E6148", "#B09C85", "#1F77B4", "#FF7F0E"]}, "legend": null}
              }
            },
            {
              "data": {"values": [{"ref": 0}]},
              "mark": {"type": "rule", "strokeDash": [4, 3], "color": "#000000", "strokeWidth": 1.1},
              "encoding": {"x": {"field": "ref", "type": "quantitative"}}
            },
            {
              "data": {"values": [{"ref": 0}]},
              "mark": {"type": "rule", "strokeDash": [4, 3], "color": "#000000", "strokeWidth": 1.1},
              "encoding": {"y": {"field": "ref", "type": "quantitative"}}
            },
            {
              "data": {"name": "pca"},
              "mark": {"type": "point", "filled": true, "size": 42, "opacity": 1},
              "encoding": {
                "x": {"field": "pc1", "type": "quantitative"},
                "y": {"field": "pc2", "type": "quantitative"},
                "color": {"field": "s", "type": "nominal", "legend": null}
              }
            },
            {
              "data": {"name": "pca"},
              "mark": {"type": "text", "font": "Liberation Serif", "fontSize": 13, "baseline": "middle", "align": "center"},
              "encoding": {
                "x": {"field": "lx", "type": "quantitative"},
                "y": {"field": "ly", "type": "quantitative"},
                "text": {"field": "s", "type": "nominal"},
                "color": {"field": "s", "type": "nominal", "legend": null}
              }
            },
            {
              "data": {"values": [{"panel": "C"}]},
              "mark": {"type": "text", "font": "Liberation Serif", "fontSize": 17, "fontWeight": "bold", "baseline": "alphabetic", "align": "center", "fill": "#000000"},
              "encoding": {
                "x": {"datum": -3.732, "type": "quantitative"},
                "y": {"datum": 3.954, "type": "quantitative"},
                "text": {"field": "panel", "type": "nominal"}
              }
            }
          ]
        },
        {
          "width": 157,
          "height": 299,
          "data": {"name": "pca"},
          "layer": [
            {
              "mark": {"type": "point", "shape": "square", "size": 210, "filled": true, "opacity": 1, "fillOpacity": 0.2, "strokeWidth": 1.3, "strokeOpacity": 1},
              "encoding": {
                "x": {"datum": 0, "type": "quantitative", "scale": {"domain": [0, 1]}, "axis": null},
                "y": {"field": "s", "type": "nominal", "scale": {"type": "point", "domain": ["PM1", "PM2", "PM3", "PR1", "PR2", "PR3", "SW1", "SW2", "SW3", "SY1", "SY2", "SY3"], "range": [71.7, 247.7], "padding": 0}, "axis": null},
                "fill": {"field": "s", "type": "nominal", "scale": {"domain": ["PM1", "PM2", "PM3", "PR1", "PR2", "PR3", "SW1", "SW2", "SW3", "SY1", "SY2", "SY3"], "range": ["#E64B35", "#4DBBD5", "#00A087", "#3C5488", "#F39B7F", "#8491B4", "#91D1C2", "#DC0000", "#7E6148", "#B09C85", "#1F77B4", "#FF7F0E"]}, "legend": null},
                "stroke": {"field": "s", "type": "nominal", "scale": {"domain": ["PM1", "PM2", "PM3", "PR1", "PR2", "PR3", "SW1", "SW2", "SW3", "SY1", "SY2", "SY3"], "range": ["#E64B35", "#4DBBD5", "#00A087", "#3C5488", "#F39B7F", "#8491B4", "#91D1C2", "#DC0000", "#7E6148", "#B09C85", "#1F77B4", "#FF7F0E"]}, "legend": null}
              }
            },
            {
              "mark": {"type": "point", "shape": "circle", "size": 36, "filled": true, "opacity": 1},
              "encoding": {
                "x": {"datum": 0, "type": "quantitative", "axis": null},
                "y": {"field": "s", "type": "nominal", "axis": null},
                "color": {"field": "s", "type": "nominal", "scale": {"domain": ["PM1", "PM2", "PM3", "PR1", "PR2", "PR3", "SW1", "SW2", "SW3", "SY1", "SY2", "SY3"], "range": ["#E64B35", "#4DBBD5", "#00A087", "#3C5488", "#F39B7F", "#8491B4", "#91D1C2", "#DC0000", "#7E6148", "#B09C85", "#1F77B4", "#FF7F0E"]}, "legend": null}
              }
            },
            {
              "mark": {"type": "text", "align": "left", "baseline": "middle", "dx": 13.5, "font": "Liberation Serif", "fontSize": 13, "fill": "#1a1a1a"},
              "encoding": {
                "x": {"datum": 0, "type": "quantitative", "axis": null},
                "y": {"field": "s", "type": "nominal", "axis": null},
                "text": {"field": "s", "type": "nominal"}
              }
            },
            {
              "transform": [{"filter": "datum.s === 'PM1'"}],
              "mark": {"type": "text", "align": "left", "baseline": "middle", "dx": -8, "dy": -17.7, "font": "Liberation Serif", "fontSize": 13.5, "fill": "#000000", "text": "Group"},
              "encoding": {
                "x": {"datum": 0, "type": "quantitative", "axis": null},
                "y": {"field": "s", "type": "nominal", "axis": null}
              }
            }
          ]
        }
      ],
      "spacing": 12.5,
      "resolve": {"scale": {"color": "independent", "fill": "independent", "stroke": "independent"}}
    }
  ],
  "spacing": 104,
  "center": true,
  "resolve": {"scale": {"color": "independent", "fill": "independent", "stroke": "independent"}}
}
